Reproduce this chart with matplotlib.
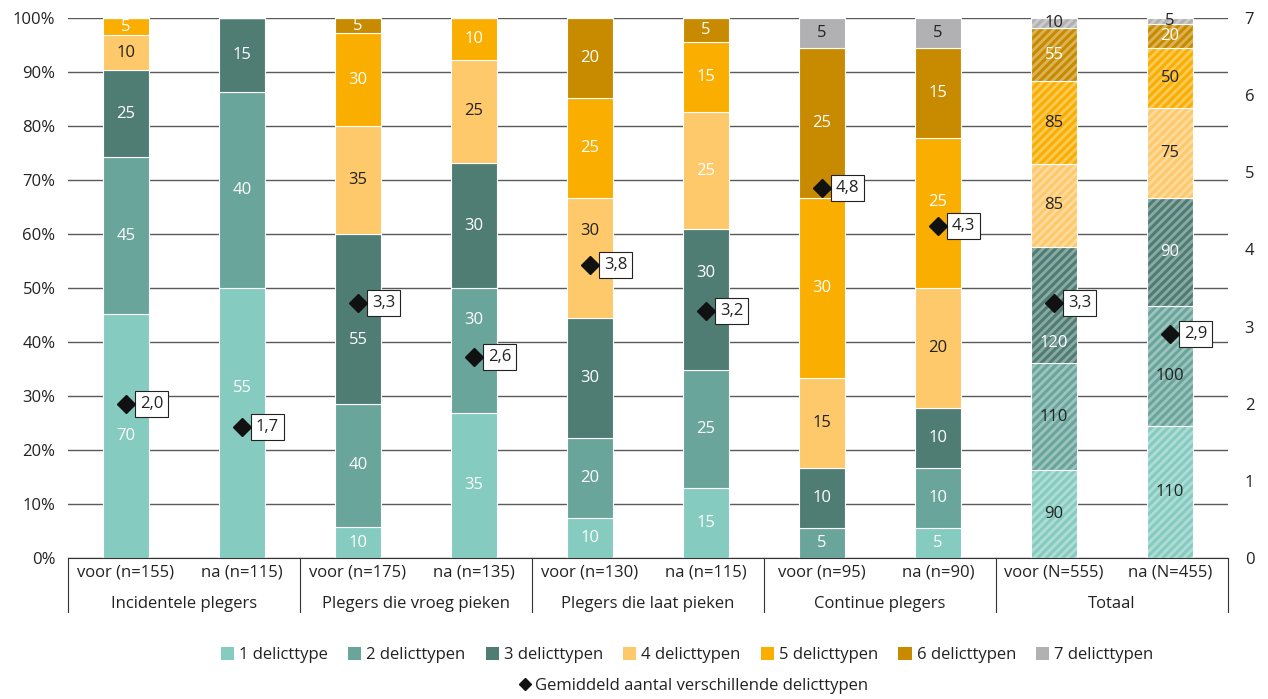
import numpy as np
import matplotlib.pyplot as plt
import matplotlib.transforms as mtransforms
from matplotlib.patches import Patch
from matplotlib.lines import Line2D

plt.rcParams['font.family'] = ['Open Sans', 'DejaVu Sans']
plt.rcParams['hatch.linewidth'] = 2.0

groepen = ['Incidentele plegers', 'Plegers die vroeg pieken', 'Plegers die laat pieken',
           'Continue plegers', 'Totaal']
staven = ['voor (n=155)', 'na (n=115)', 'voor (n=175)', 'na (n=135)', 'voor (n=130)',
          'na (n=115)', 'voor (n=95)', 'na (n=90)', 'voor (N=555)', 'na (N=455)']
categorieen = ['1 delicttype', '2 delicttypen', '3 delicttypen', '4 delicttypen',
               '5 delicttypen', '6 delicttypen', '7 delicttypen']
kleuren = ['#85cbc0', '#6aa59c', '#4f7d74', '#fec96a', '#f9ae00', '#c88b00', '#b1b1b3']

# aantallen per aantal delicttypen, per staaf
d1 = [70, 55, 10, 35, 10, 15, 0, 5, 90, 110]
d2 = [45, 40, 40, 30, 20, 25, 5, 10, 110, 100]
d3 = [25, 15, 55, 30, 30, 30, 10, 10, 120, 90]
d4 = [10, 0, 35, 25, 30, 25, 15, 20, 85, 75]
d5 = [5, 0, 30, 10, 25, 15, 30, 25, 85, 50]
d6 = [0, 0, 5, 0, 20, 5, 25, 15, 55, 20]
d7 = [0, 0, 0, 0, 0, 0, 5, 5, 10, 5]
gemiddelde = [2.0, 1.7, 3.3, 2.6, 3.8, 3.2, 4.8, 4.3, 3.3, 2.9]

data = np.array([d1, d2, d3, d4, d5, d6, d7], dtype=float)
pct = data / data.sum(axis=0) * 100
x = np.arange(len(staven))

# welke labels wit zijn: gewone staven en de gearceerde totaal-staven
wit_gewoon = [True, True, True, False, True, True, False]
wit_totaal = [False, False, True, False, False, True, False]
wit_extra = {(3, 5)}

# labels die opzij geschoven zijn om de ruit niet te raken (hoogte in %)
label_pos = {(0, 1): 31.5, (2, 2): 40.3, (1, 3): 44.0, (3, 4): 60.6,
             (2, 5): 52.8, (4, 7): 65.9, (2, 8): 39.8, (1, 9): 33.7}

fig = plt.figure(figsize=(12.68, 6.99), dpi=100)
ax = fig.add_axes([0.0536, 0.2017, 0.9149, 0.7725])

bottom = np.zeros(len(staven))
for i in range(len(categorieen)):
    h = pct[i]
    ax.bar(x[:8], h[:8], 0.4, bottom=bottom[:8], color=kleuren[i],
           edgecolor='white', linewidth=0.8, zorder=2)
    ax.bar(x[8:], h[8:], 0.4, bottom=bottom[8:], color=kleuren[i],
           edgecolor='white', linewidth=0.8, zorder=2)
    ax.bar(x[8:], h[8:], 0.4, bottom=bottom[8:], facecolor='none',
           edgecolor=(1, 1, 1, 0.35), hatch='////', linewidth=0, zorder=3)
    for j in range(len(staven)):
        if data[i, j] == 0:
            continue
        wit = wit_totaal[i] if j >= 8 else wit_gewoon[i]
        wit = wit or (i, j) in wit_extra
        y = label_pos.get((i, j), bottom[j] + h[j] / 2)
        ax.text(x[j], y, f'{int(data[i, j])}', ha='center', va='center', fontsize=12,
                color='white' if wit else '#222222', zorder=4)
    bottom += h

ax.set_xlim(-0.5, 9.5)
ax.set_ylim(0, 100)
ax.set_yticks(np.arange(0, 101, 10))
ax.set_yticklabels([f'{v}%' for v in range(0, 101, 10)])
ax.yaxis.grid(True, color='#5a5a5a', linewidth=1)
ax.set_axisbelow(True)
ax.set_xticks(x, staven)
ax.tick_params(axis='both', length=0, labelsize=12, colors='#222222')
ax.tick_params(axis='x', pad=5)
ax.tick_params(axis='y', pad=9)
for s in ['top', 'left', 'right']:
    ax.spines[s].set_visible(False)
ax.spines['bottom'].set_color('#333333')

blend = mtransforms.blended_transform_factory(ax.transData, ax.transAxes)
for g, naam in enumerate(groepen):
    ax.text(2 * g + 0.5, -0.085, naam, transform=blend, ha='center', va='center',
            fontsize=12, color='#222222')
for xs in np.arange(-0.5, 10, 2):
    ax.plot([xs, xs], [0, -0.1], transform=blend, clip_on=False, color='#333333', lw=0.8)

ax2 = ax.twinx()
ax2.set_ylim(0, 7)
ax2.set_yticks(range(8))
ax2.tick_params(axis='y', length=0, labelsize=12, colors='#222222', pad=12)
for s in ax2.spines.values():
    s.set_visible(False)
ax2.plot(x, gemiddelde, 'D', color='#111111', ms=9.5, ls='none', zorder=5)
for xi, g in zip(x, gemiddelde):
    ax2.annotate(f'{g:.1f}'.replace('.', ','), (xi, g), xytext=(10, 0),
                 textcoords='offset points', ha='left', va='center', fontsize=12,
                 color='#222222',
                 bbox=dict(boxstyle='square,pad=0.3', fc='white', ec='#222222', lw=0.8))

handles = [Patch(facecolor=k, label=c) for k, c in zip(kleuren, categorieen)]
fig.legend(handles=handles, loc='center', bbox_to_anchor=(0.542, 1 - 655 / 699), ncol=7,
           frameon=False, handlelength=0.8, handleheight=0.8, handletextpad=0.3,
           columnspacing=1.2, fontsize=12, labelcolor='#222222')
fig.legend(handles=[Line2D([], [], marker='D', color='#111111', ls='none', ms=6)],
           labels=['Gemiddeld aantal verschillende delicttypen'], loc='center',
           bbox_to_anchor=(0.547, 1 - 686 / 699), frameon=False, handlelength=0.6,
           handletextpad=0.3, fontsize=12, labelcolor='#222222')

fig.savefig('out.png', dpi=100)
